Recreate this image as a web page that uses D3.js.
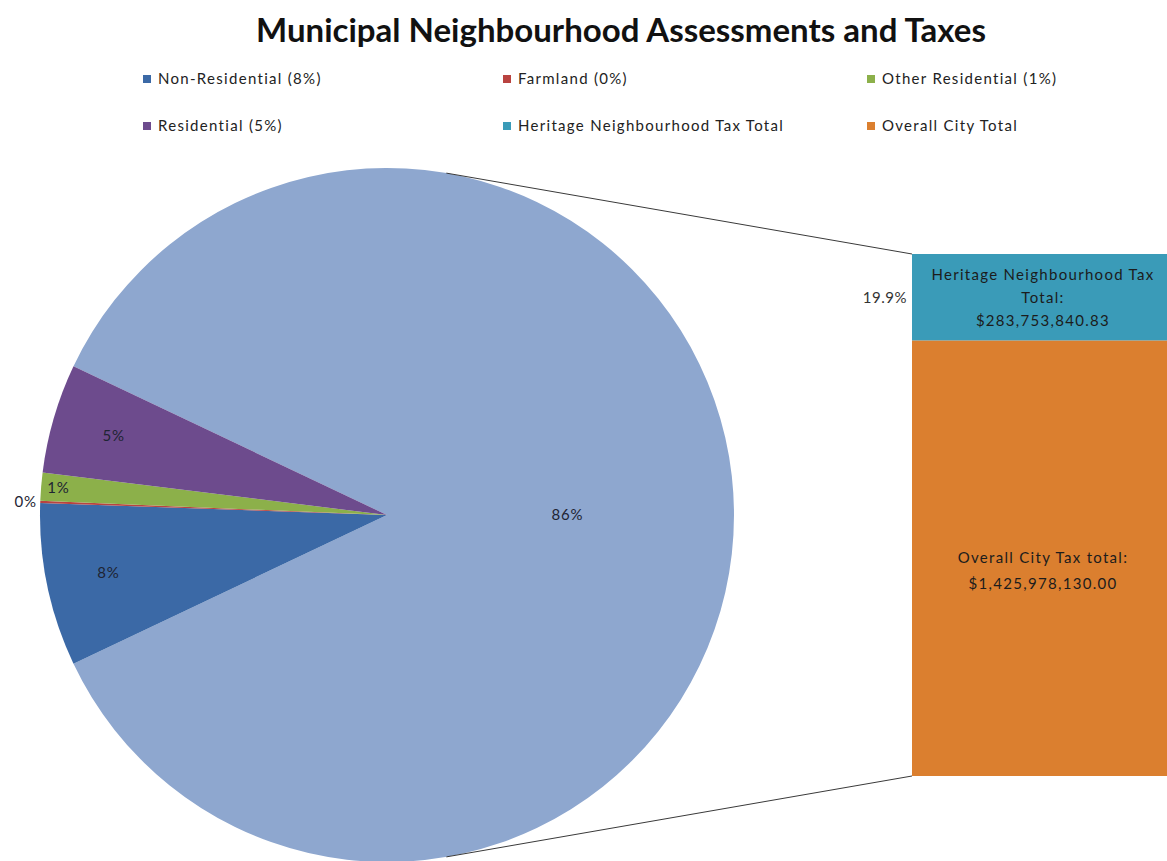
<!DOCTYPE html>
<html>
<head>
<meta charset="utf-8">
<script src="https://cdn.jsdelivr.net/npm/d3@7"></script>
<style>
  html, body { margin: 0; padding: 0; background: #fff; }
  svg { display: block; font-family: Lato, "Open Sans", sans-serif; }
</style>
</head>
<body>
<svg id="chart" width="1167" height="861"></svg>
<script>
// Pie slices (share of assessments, %) — the first slice is split out into the bar
const sliceNames = ["Heritage Neighbourhood", "Non-Residential", "Farmland", "Other Residential", "Residential"];
const slicePct = [85.9, 7.6, 0.1, 1.3, 5.1];
const sliceColors = ["#8EA7CF", "#3B69A6", "#B94340", "#8CB04A", "#6D4B8D"];

// Stacked bar (tax totals, $)
const barNames = ["Heritage Neighbourhood Tax Total", "Overall City Total"];
const barLabels = ["Heritage Neighbourhood Tax Total:", "Overall City Tax total:"];
const barValues = [283753840.83, 1425978130.00];
const barColors = ["#3A9BB8", "#DB7F2F"];

// Legend entries in display order
const legendNames = ["Non-Residential", "Farmland", "Other Residential", "Residential", "Heritage Neighbourhood Tax Total", "Overall City Total"];

const svg = d3.select("#chart");
const pct = d3.format(".0f");

// Title
svg.append("text")
  .attr("x", 621).attr("y", 42)
  .attr("text-anchor", "middle")
  .attr("font-size", 33).attr("font-weight", "bold").attr("fill", "#111")
  .text("Municipal Neighbourhood Assessments and Taxes");

// Legend
const legendItems = legendNames.map(name => {
  const si = sliceNames.indexOf(name);
  if (si >= 0) return { label: `${name} (${pct(slicePct[si])}%)`, color: sliceColors[si] };
  const bi = barNames.indexOf(name);
  return { label: name, color: barColors[bi] };
});
const legendCols = [143, 503, 867];
const legendRows = [79, 126];
const lg = svg.append("g");
legendItems.forEach((d, i) => {
  const x = legendCols[i % 3], y = legendRows[Math.floor(i / 3)];
  lg.append("rect").attr("x", x).attr("y", y - 4).attr("width", 8).attr("height", 8).attr("fill", d.color);
  lg.append("text").attr("x", x + 15).attr("y", y + 5)
    .attr("font-size", 15).attr("letter-spacing", 1.3).attr("fill", "#222").text(d.label);
});

// Pie
const cx = 387, cy = 515, R = 347;
const bigAngle = 2 * Math.PI * slicePct[0] / d3.sum(slicePct);
const start = Math.PI / 2 - bigAngle / 2; // split slice faces the bar
const pie = d3.pie().sort(null).value(d => d).startAngle(start).endAngle(start + 2 * Math.PI);
const arcs = pie(slicePct);
const arc = d3.arc().innerRadius(0).outerRadius(R);
const pg = svg.append("g").attr("transform", `translate(${cx},${cy})`);
pg.selectAll("path").data(arcs).join("path")
  .attr("d", arc)
  .attr("fill", (d, i) => sliceColors[i]);

// Pie data labels
const labelRadius = [0.52, 0.82, 1.01, 0.95, 0.82];
arcs.forEach((d, i) => {
  const a = (d.startAngle + d.endAngle) / 2;
  const r = R * labelRadius[i];
  const x = r * Math.sin(a), y = -r * Math.cos(a);
  const outside = labelRadius[i] > 1;
  pg.append("text")
    .attr("x", x).attr("y", y)
    .attr("dy", "0.35em")
    .attr("text-anchor", outside ? "end" : "middle")
    .attr("font-size", 15).attr("letter-spacing", 0.8).attr("fill", "#1e2433")
    .text(pct(slicePct[i]) + "%");
});

// Bar of pie
const barX = 912, barW = 262;
const total = d3.sum(barValues);
const y = d3.scaleLinear().domain([0, total]).range([776, 254]);
// heritage stacked on top of overall
const stacks = [
  { i: 0, y0: barValues[1], y1: total },
  { i: 1, y0: 0, y1: barValues[1] }
];
const bg = svg.append("g");
bg.selectAll("rect").data(stacks).join("rect")
  .attr("x", barX).attr("width", barW)
  .attr("y", d => y(d.y1)).attr("height", d => y(d.y0) - y(d.y1))
  .attr("fill", d => barColors[d.i]);

const money = v => "$" + d3.format(",.2f")(v);
const barTextLines = [
  ["Heritage Neighbourhood Tax", "Total:", money(barValues[0])],
  [barLabels[1], money(barValues[1])]
];
stacks.forEach(d => {
  const lines = barTextLines[d.i];
  const lh = d.i === 0 ? 23 : 26;
  const mid = (y(d.y0) + y(d.y1)) / 2 + (d.i === 1 ? 12 : 0);
  const t = bg.append("text").attr("text-anchor", "middle")
    .attr("font-size", 15).attr("letter-spacing", 1.3).attr("fill", "#1c1c1c");
  lines.forEach((ln, k) => {
    t.append("tspan").attr("x", 1043)
      .attr("y", mid + (k - (lines.length - 1) / 2) * lh)
      .attr("dy", "0.35em").text(ln);
  });
});

// Share of heritage relative to overall city total
const share = d3.format(".1%")(barValues[0] / barValues[1]);
svg.append("text")
  .attr("x", 907).attr("y", (y(total) + y(barValues[1])) / 2)
  .attr("dy", "0.35em").attr("text-anchor", "end")
  .attr("font-size", 15).attr("letter-spacing", 0.5).attr("fill", "#333").text(share);

// Connector lines: tangents from bar corners to the pie edge
function tangentPoint(px, py, upper) {
  const dx = px - cx, dy = py - cy;
  const d = Math.hypot(dx, dy);
  const base = Math.atan2(dy, dx);
  const off = Math.acos(R / d);
  const t = upper ? base - off : base + off;
  return [cx + R * Math.cos(t), cy + R * Math.sin(t)];
}
const corners = [[barX, y(total), true], [barX, y(0), false]];
corners.forEach(([px, py, up]) => {
  const [tx, ty] = tangentPoint(px, py, up);
  svg.append("line")
    .attr("x1", tx).attr("y1", ty).attr("x2", px).attr("y2", py)
    .attr("stroke", "#3a3a3a").attr("stroke-width", 1);
});
</script>
</body>
</html>
